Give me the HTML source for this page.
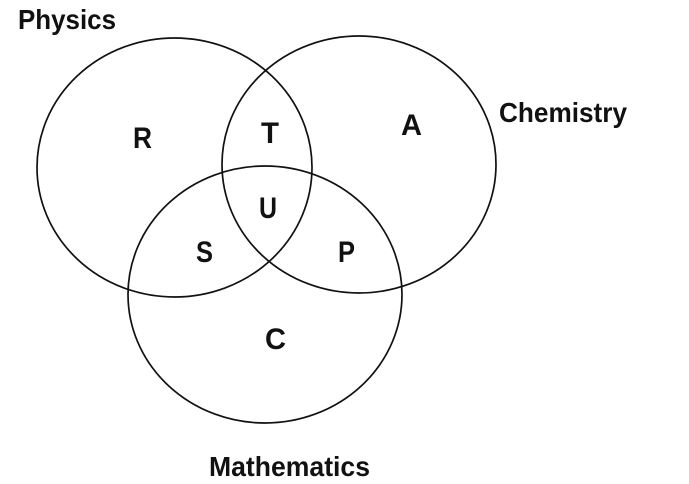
<!DOCTYPE html>
<html><head><style>html,body{margin:0;padding:0;background:#fff;}svg{display:block}</style></head>
<body>
<svg width="689" height="484" viewBox="0 0 689 484" xmlns="http://www.w3.org/2000/svg">
<g fill="none" stroke="#111" stroke-width="1.7">
<ellipse cx="174.5" cy="167.5" rx="137.5" ry="129.5"/>
<ellipse cx="359" cy="164.5" rx="137" ry="128.5"/>
<ellipse cx="265" cy="294.5" rx="137" ry="128.5"/>
</g>
<g font-family="Liberation Sans, Arial, sans-serif" font-weight="bold" fill="#111">
<text x="18" y="29" font-size="28" textLength="98" lengthAdjust="spacingAndGlyphs">Physics</text>
<text x="499" y="122" font-size="28" textLength="128" lengthAdjust="spacingAndGlyphs">Chemistry</text>
<text x="209" y="476" font-size="28" textLength="161" lengthAdjust="spacingAndGlyphs">Mathematics</text>
<g font-size="30">
<text x="133" y="148" textLength="19" lengthAdjust="spacingAndGlyphs">R</text>
<text x="261" y="143" textLength="18" lengthAdjust="spacingAndGlyphs">T</text>
<text x="401" y="135" textLength="21" lengthAdjust="spacingAndGlyphs">A</text>
<text x="259" y="218" textLength="18" lengthAdjust="spacingAndGlyphs">U</text>
<text x="196" y="262" textLength="17" lengthAdjust="spacingAndGlyphs">S</text>
<text x="338" y="262" textLength="17" lengthAdjust="spacingAndGlyphs">P</text>
<text x="265" y="349" textLength="21" lengthAdjust="spacingAndGlyphs">C</text>
</g>
</g>
</svg>
</body></html>
